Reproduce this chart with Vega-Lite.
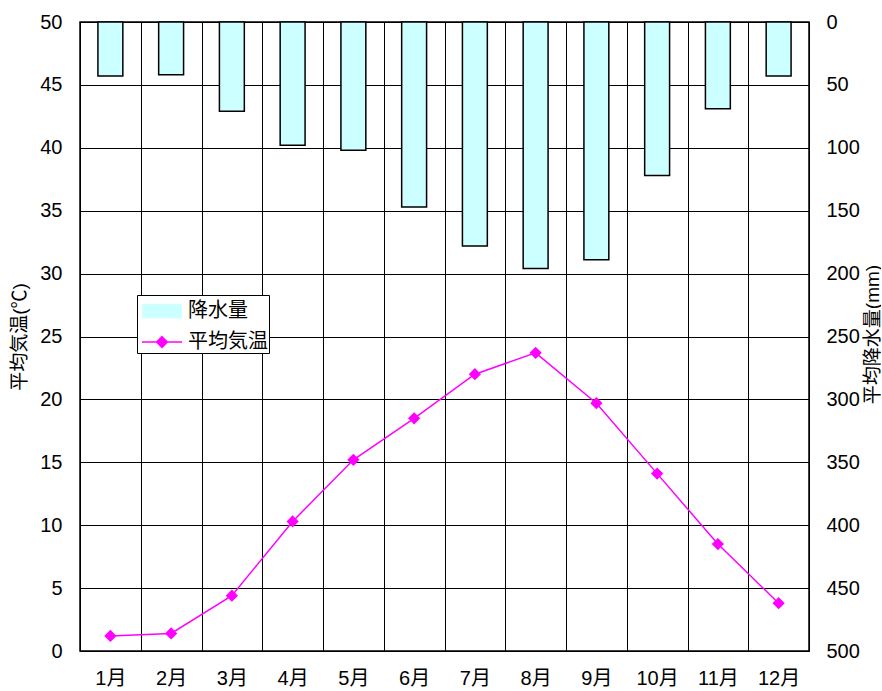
{
  "$schema": "https://vega.github.io/schema/vega-lite/v6.json",
  "autosize": "none",
  "padding": {"left": 80, "top": 22, "right": 72, "bottom": 40},
  "width": 729,
  "height": 629,
  "background": "white",
  "data": {
    "values": [
      {"month": "1月", "precip": 43, "temp": 1.2},
      {"month": "2月", "precip": 42, "temp": 1.4},
      {"month": "3月", "precip": 71, "temp": 4.4},
      {"month": "4月", "precip": 98, "temp": 10.3},
      {"month": "5月", "precip": 102, "temp": 15.2},
      {"month": "6月", "precip": 147, "temp": 18.5},
      {"month": "7月", "precip": 178, "temp": 22.0},
      {"month": "8月", "precip": 196, "temp": 23.7},
      {"month": "9月", "precip": 189, "temp": 19.7},
      {"month": "10月", "precip": 122, "temp": 14.1},
      {"month": "11月", "precip": 69, "temp": 8.5},
      {"month": "12月", "precip": 43, "temp": 3.8}
    ]
  },
  "encoding": {
    "x": {
      "field": "month",
      "type": "ordinal",
      "sort": null,
      "scale": {"paddingInner": 0, "paddingOuter": 0},
      "axis": {
        "title": null,
        "labelAngle": 0,
        "grid": true,
        "gridColor": "#000",
        "gridOpacity": 1,
        "tickBand": "extent",
        "ticks": false,
        "domain": false,
        "labelPadding": 17,
        "labelFontSize": 20,
        "labelColor": "#000"
      }
    }
  },
  "layer": [
    {
      "mark": {"type": "bar", "stroke": "#000", "strokeWidth": 1.5, "width": {"band": 0.41}},
      "encoding": {
        "y": {
          "field": "precip",
          "type": "quantitative",
          "scale": {"domain": [0, 500], "reverse": true, "nice": false},
          "axis": {
            "orient": "right",
            "values": [0, 50, 100, 150, 200, 250, 300, 350, 400, 450, 500],
            "grid": false,
            "ticks": false,
            "domain": false,
            "labelPadding": 17,
            "labelFontSize": 20,
            "labelColor": "#000",
            "title": "平均降水量(mm)",
            "titleAngle": 270,
            "titleX": 63,
            "titleY": 312,
            "titleAlign": "center",
            "titleBaseline": "middle",
            "titleFontSize": 19,
            "titleFontWeight": "normal",
            "titleColor": "#000"
          }
        },
        "stroke": {
          "datum": "降水量",
          "scale": {"domain": ["降水量", "平均気温"], "range": ["#000000", "#FF00FF"]},
          "legend": {"title": null}
        },
        "color": {
          "datum": "降水量",
          "scale": {"domain": ["降水量", "平均気温"], "range": ["#CCFFFF", "#FF00FF"]},
          "legend": {
            "title": null,
            "orient": "none",
            "legendX": 57,
            "legendY": 273,
            "fillColor": "white",
            "strokeColor": "#000",
            "padding": 1,
            "rowPadding": 6,
            "symbolSize": 784,
            "symbolOffset": 9,
            "labelOffset": 11,
            "labelFontSize": 20,
            "labelColor": "#000",
            "symbolOpacity": 1,
            "symbolType": {"expr": "datum.value === '降水量' ? 'M-1.36,-0.46H1.36V0.46H-1.36Z' : 'M-1.43,0H1.43M0,-0.38L0.38,0L0,0.38L-0.38,0Z'"},
            "symbolStrokeWidth": 1.5
          }
        }
      }
    },
    {
      "mark": {
        "type": "line",
        "strokeWidth": 1.5,
        "point": {"filled": true, "shape": "diamond", "size": 150, "opacity": 1}
      },
      "encoding": {
        "y": {
          "field": "temp",
          "type": "quantitative",
          "scale": {"domain": [0, 50], "nice": false},
          "axis": {
            "orient": "left",
            "values": [0, 5, 10, 15, 20, 25, 30, 35, 40, 45, 50],
            "grid": true,
            "gridColor": "#000",
            "gridOpacity": 1,
            "ticks": false,
            "domain": false,
            "labelPadding": 18,
            "labelFontSize": 20,
            "labelColor": "#000",
            "title": "平均気温(℃)",
            "titleFontSize": 19,
            "titleFontWeight": "normal",
            "titleColor": "#000",
            "titlePadding": 10
          }
        },
        "color": {"datum": "平均気温", "legend": null}
      }
    }
  ],
  "resolve": {"scale": {"y": "independent"}},
  "config": {
    "font": "Liberation Sans, Noto Sans CJK JP",
    "view": {"stroke": "#000", "strokeWidth": 1.5}
  }
}
